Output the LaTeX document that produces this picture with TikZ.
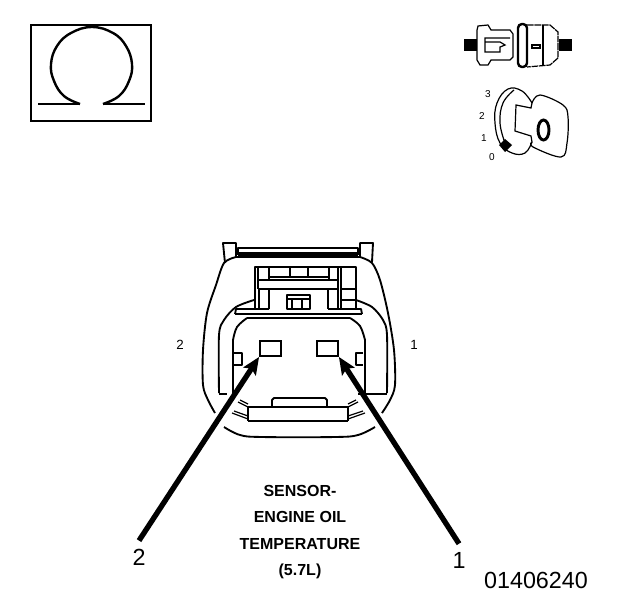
\documentclass[tikz,border=0pt]{standalone}
\usepackage{fontspec}
\setmainfont{Liberation Sans}
\usetikzlibrary{arrows.meta}
\usetikzlibrary{positioning}
\tikzset{shell/.style = {line width=1.4pt, line join=round},
         thin part/.style = {line width=0.9pt},
         pin/.style = {draw, line width=1.6pt, inner sep=0, minimum width=15.5pt, minimum height=11pt},
         pin arrow/.style = {line width=4pt, -{Stealth[length=13pt, width=11pt, inset=2.5pt]}},
         big label/.style = {font=\fontsize{17.5}{20}\selectfont, inner sep=6pt},
         pin label/.style = {font=\fontsize{10}{11}\selectfont},
         key label/.style = {font=\fontsize{7.5}{8}\selectfont, inner sep=0}}

\begin{document}
\begin{tikzpicture}[x=0.75pt, y=-0.75pt]
      \useasboundingbox (0, 0) rectangle (624, 600);

      % meter box
      \draw [line width=2pt] (31, 25) rectangle (151, 121);
      \draw [line width=1.8pt] plot [smooth, tension=0.7] coordinates {(80, 104) (64, 96) (54, 81) (51, 64) (57, 46) (71, 33) (92, 27) (113, 33) (126, 46) (132, 64) (129, 81) (119, 96) (103, 104)};
      \draw [line width=1.3pt] (38, 104) -- (80, 104);
      \draw [line width=1.3pt] (103, 104) -- (145, 104);

      % connector icon
      \fill (464, 39) rectangle (477, 51);
      \fill (559, 39) rectangle (572, 51);
      \draw [thin part] (477, 30) -- (478, 26) -- (488, 25) -- (491, 30) -- (510, 30) -- (513, 34) -- (513, 57) -- (510, 60) -- (491, 60) -- (488, 65) -- (480, 65) -- (477, 60) -- (477, 30);
      \draw [thin part] (510, 38) -- (485, 38) -- (485, 52) -- (500, 52) -- (500, 47) -- (505, 45) -- (500, 42) -- (485, 42);
      \draw [line width=1.8pt, rounded corners=3pt] (518, 24) rectangle (527, 67);
      \draw [thin part, dash pattern=on 5pt off 0.6pt] (527, 25) -- (550, 25) -- (558, 32) -- (558, 58) -- (550, 65) -- (527, 67);
      \draw [thin part] (543, 25) -- (543, 65);
      \draw [thin part] (532, 45) rectangle (540, 48);

      % ignition key
      \draw [thin part] plot [smooth, tension=0.7] coordinates {(532, 103) (522, 91) (508, 89) (497, 103) (495, 123) (500, 143) (512, 153) (525, 153) (532, 142)};
      \draw [thin part] plot [smooth, tension=0.7] coordinates {(514, 90) (503, 103) (500, 123) (505, 143)};
      \draw [thin part] (532, 103) -- (531, 108) -- (516, 105) -- (515, 131) -- (531, 136) -- (532, 142);
      \draw [thin part] plot [smooth, tension=0.6] coordinates {(532, 103) (540, 95) (563, 105) (568, 117) (567, 143) (561, 157) (533, 147) (532, 142)};
      \draw [line width=2.2pt] (543.5, 130) ellipse (5.5 and 10);
      \fill (505, 139) -- (512, 145) -- (505, 152) -- (499, 145) -- cycle;
      \node [key label] (dial3) at (488, 94) {3};
      \node [key label] (dial2) at (482, 116) {2};
      \node [key label] (dial1) at (484, 138) {1};
      \node [key label] (dial0) at (492, 157) {0};

      % housing
      \draw [shell] (225, 263) -- (223, 243) -- (236, 243) -- (236, 257);
      \draw [shell] (372, 262) -- (373, 243) -- (360, 243) -- (360, 257);
      \draw [shell] (238, 255) -- (238, 248) -- (358, 248) -- (358, 255);
      \draw [line width=2.4pt] (238, 254) -- (358, 254);
      \draw [shell] (236, 257) -- (360, 257);
      \draw [shell] plot [smooth, tension=0.5] coordinates {(236, 257) (224, 263) (216, 285) (207, 313) (203, 350) (203, 385) (208, 400) (215, 413)};
      \draw [shell] plot [smooth, tension=0.5] coordinates {(360, 257) (372, 263) (380, 280) (388, 313) (394, 350) (395, 385) (390, 400) (382, 413)};
      \draw [shell] plot [smooth, tension=0.6] coordinates {(224, 427) (240, 435) (262, 437) (335, 437) (358, 435) (375, 427)};

      % inner frame
      \draw [shell] plot [smooth, tension=0.5] coordinates {(219, 393) (219, 335) (224, 320) (236, 307) (254, 300)};
      \draw [shell] plot [smooth, tension=0.5] coordinates {(356, 300) (372, 307) (383, 320) (387, 335) (387, 393)};
      \draw [shell] (233, 393) -- (233, 340);
      \draw [shell] plot [smooth, tension=0.6] coordinates {(233, 340) (237, 327) (247, 318)};
      \draw [shell] (247, 318) -- (350, 318);
      \draw [shell] plot [smooth, tension=0.6] coordinates {(350, 318) (360, 326) (365, 340)};
      \draw [shell] (365, 340) -- (365, 393);
      \draw [shell] (219, 394) -- (227, 394);
      \draw [shell] (358, 394) -- (387, 394);
      \draw [shell] (234, 353) -- (242, 353) -- (242, 365) -- (234, 365);
      \draw [shell] (363, 353) -- (356, 353) -- (356, 365) -- (363, 365);

      % latch
      \draw [shell] (235, 314) -- (362, 314);
      \draw [shell] (235, 314) -- (236, 309) -- (269, 309);
      \draw [shell] (328, 309) -- (361, 309) -- (362, 314);
      \draw [shell] (255, 309) -- (255, 267) -- (356, 267) -- (356, 309);
      \draw [shell] (258, 267) -- (258, 289);
      \draw [shell] (269, 267) -- (269, 280);
      \draw [shell] (290, 267) -- (290, 278);
      \draw [shell] (308, 267) -- (308, 278);
      \draw [shell] (329, 267) -- (329, 280);
      \draw [shell] (338, 267) -- (338, 280);
      \draw [shell] (341, 267) -- (341, 309);
      \draw [shell] (269, 277) -- (329, 277);
      \draw [shell] (258, 280) -- (338, 280);
      \draw [shell] (258, 289) -- (338, 289);
      \draw [shell] (338, 280) -- (338, 289);
      \draw [shell] (341, 289) -- (356, 289);
      \draw [shell] (341, 300) -- (356, 300);
      \draw [shell] (259, 289) -- (259, 309);
      \draw [shell] (269, 289) -- (269, 309);
      \draw [shell] (328, 289) -- (328, 309);
      \draw [shell] (338, 289) -- (338, 309);
      \draw [shell] (287, 309) -- (287, 295) -- (310, 295) -- (310, 309) -- cycle;
      \draw [shell] (292, 299) -- (292, 309);
      \draw [shell] (302, 299) -- (302, 309);
      \draw [shell] (287, 299) -- (310, 299);

      % lower key
      \draw [shell] (248, 407) -- (248, 421);
      \draw [shell] (348, 407) -- (348, 421);
      \draw [shell] (248, 407) -- (348, 407);
      \draw [line width=2pt] (248, 421) -- (348, 421);
      \draw [shell] (272, 407) -- (272, 400) -- (274, 398) -- (325, 398) -- (327, 400) -- (327, 407);
      \draw [thin part] (238, 402) -- (248, 407);
      \draw [thin part] (240, 400) -- (248, 404);
      \draw [thin part] (232, 413) -- (248, 419);
      \draw [thin part] (234, 411) -- (248, 416);
      \draw [thin part] (348, 407) -- (358, 402);
      \draw [thin part] (348, 404) -- (356, 400);
      \draw [thin part] (348, 419) -- (365, 413);
      \draw [thin part] (348, 416) -- (363, 411);

      % pins and arrows
      \node [pin] (pin2) at (270.5, 348.5) {};
      \node [pin] (pin1) at (327.5, 348.5) {};
      \node [pin label] (side2) at (180, 345) {2};
      \node [pin label] (side1) at (414, 345) {1};
      \node [big label] (lead2) at (139, 557) {2};
      \node [big label] (lead1) at (459, 560) {1};
      \draw [pin arrow] (lead2.north) -- (pin2.south west);
      \draw [pin arrow] (lead1.north) -- (pin1.south east);

      \node [align=center, font=\bfseries\fontsize{12}{19.75}\selectfont] (oilsensor) at (300, 532) {SENSOR-\\ENGINE OIL\\TEMPERATURE\\(5.7L)};
      \node [font=\fontsize{17.5}{20}\selectfont, inner sep=0] (partno) at (536, 580) {01406240};
    \end{tikzpicture}
\end{document}
